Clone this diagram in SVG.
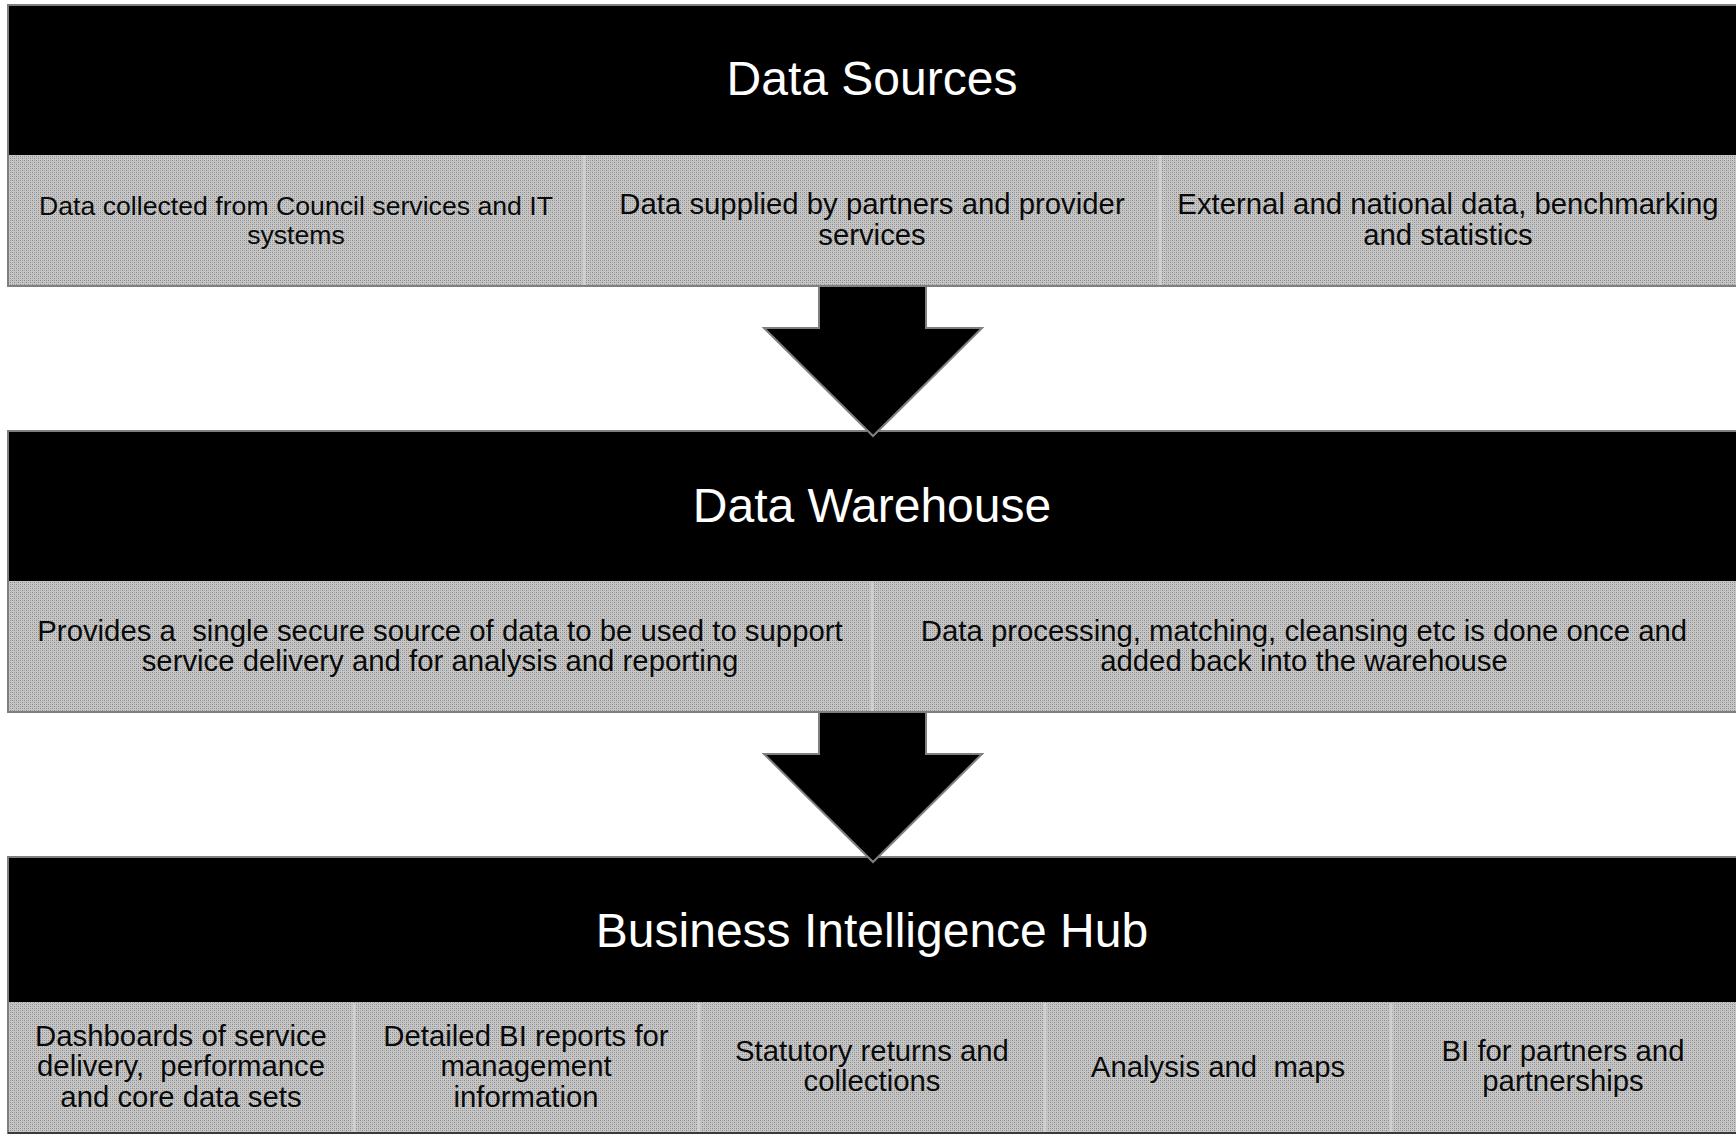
<svg xmlns="http://www.w3.org/2000/svg" width="1736" height="1135" viewBox="0 0 1736 1135">
<style>
  .hdr { fill: #000000; }
  .band { fill: url(#dots); }
  .frame { fill: none; stroke: #7f7f7f; stroke-width: 2; }
  .div { stroke: #d0d0d0; stroke-width: 3; }
  .title { font-family: "Liberation Sans", Arial, sans-serif; font-size: 48px; fill: #ffffff; text-anchor: middle; }
  .body { font-family: "Liberation Sans", Arial, sans-serif; font-size: 29.33px; fill: #0a0a0a; text-anchor: middle; }
  .small { font-size: 26.67px; }
  .arrow { fill: #000000; stroke: #7f7f7f; stroke-width: 2; stroke-linejoin: miter; }
</style>
<defs>
  <pattern id="dots" width="4" height="4" patternUnits="userSpaceOnUse">
    <rect width="4" height="4" fill="#c6c6c6"/>
    <rect x="0" y="0" width="1" height="1" fill="#888888"/>
    <rect x="2" y="2" width="1" height="1" fill="#888888"/>
    <rect x="2" y="0" width="1" height="1" fill="#a0a0a0"/>
    <rect x="0" y="2" width="1" height="1" fill="#a8a8a8"/>
  </pattern>
</defs>
<rect width="1736" height="1135" fill="#ffffff"/>

<g id="data-sources">
  <rect class="hdr" x="8" y="5" width="1730" height="150"/>
  <rect class="band" x="8" y="155" width="1730" height="131"/>
  <line class="div" x1="584" y1="156" x2="584" y2="285"/>
  <line class="div" x1="1160" y1="156" x2="1160" y2="285"/>
  <rect class="frame" x="8" y="5" width="1730" height="281"/>
  <text class="title" x="872" y="95">Data Sources</text>
  <g id="ds-council">
    <text class="body small" x="296" y="215">Data collected from Council services and IT</text>
    <text class="body small" x="296" y="244">systems</text>
  </g>
  <g id="ds-partners">
    <text class="body" x="872" y="214">Data supplied by partners and provider</text>
    <text class="body" x="872" y="245">services</text>
  </g>
  <g id="ds-external">
    <text class="body" x="1448" y="214">External and national data, benchmarking</text>
    <text class="body" x="1448" y="245">and statistics</text>
  </g>
</g>

<g id="data-warehouse">
  <rect class="hdr" x="8" y="431" width="1730" height="150"/>
  <rect class="band" x="8" y="581" width="1730" height="131"/>
  <line class="div" x1="872" y1="582" x2="872" y2="711"/>
  <rect class="frame" x="8" y="431" width="1730" height="281"/>
  <text class="title" x="872" y="522">Data Warehouse</text>
  <g id="dw-single-source">
    <text class="body" x="440" y="641" xml:space="preserve">Provides a  single secure source of data to be used to support</text>
    <text class="body" x="440" y="671">service delivery and for analysis and reporting</text>
  </g>
  <g id="dw-processing">
    <text class="body" x="1304" y="641">Data processing, matching, cleansing etc is done once and</text>
    <text class="body" x="1304" y="671">added back into the warehouse</text>
  </g>
</g>

<g id="bi-hub">
  <rect class="hdr" x="8" y="857" width="1730" height="145"/>
  <rect class="band" x="8" y="1002" width="1730" height="131"/>
  <line class="div" x1="354" y1="1003" x2="354" y2="1132"/>
  <line class="div" x1="699" y1="1003" x2="699" y2="1132"/>
  <line class="div" x1="1045" y1="1003" x2="1045" y2="1132"/>
  <line class="div" x1="1391" y1="1003" x2="1391" y2="1132"/>
  <rect class="frame" x="8" y="857" width="1730" height="276"/>
  <line x1="8" y1="1133" x2="1736" y2="1133" stroke="#3a3a3a" stroke-width="2"/>
  <text class="title" x="872" y="947">Business Intelligence Hub</text>
  <g id="bi-dashboards">
    <text class="body" x="181" y="1046">Dashboards of service</text>
    <text class="body" x="181" y="1076" xml:space="preserve">delivery,  performance</text>
    <text class="body" x="181" y="1107">and core data sets</text>
  </g>
  <g id="bi-reports">
    <text class="body" x="526" y="1046">Detailed BI reports for</text>
    <text class="body" x="526" y="1076">management</text>
    <text class="body" x="526" y="1107">information</text>
  </g>
  <g id="bi-statutory">
    <text class="body" x="872" y="1061">Statutory returns and</text>
    <text class="body" x="872" y="1091">collections</text>
  </g>
  <g id="bi-analysis">
    <text class="body" x="1218" y="1077" xml:space="preserve">Analysis and  maps</text>
  </g>
  <g id="bi-partners">
    <text class="body" x="1563" y="1061">BI for partners and</text>
    <text class="body" x="1563" y="1091">partnerships</text>
  </g>
</g>

<g id="connectors">
  <polygon class="arrow" points="819,286 926,286 926,328 982,328 873,436 764,328 819,328"/>
  <polygon class="arrow" points="819,712 926,712 926,754 982,754 873,862 764,754 819,754"/>
</g>
</svg>
